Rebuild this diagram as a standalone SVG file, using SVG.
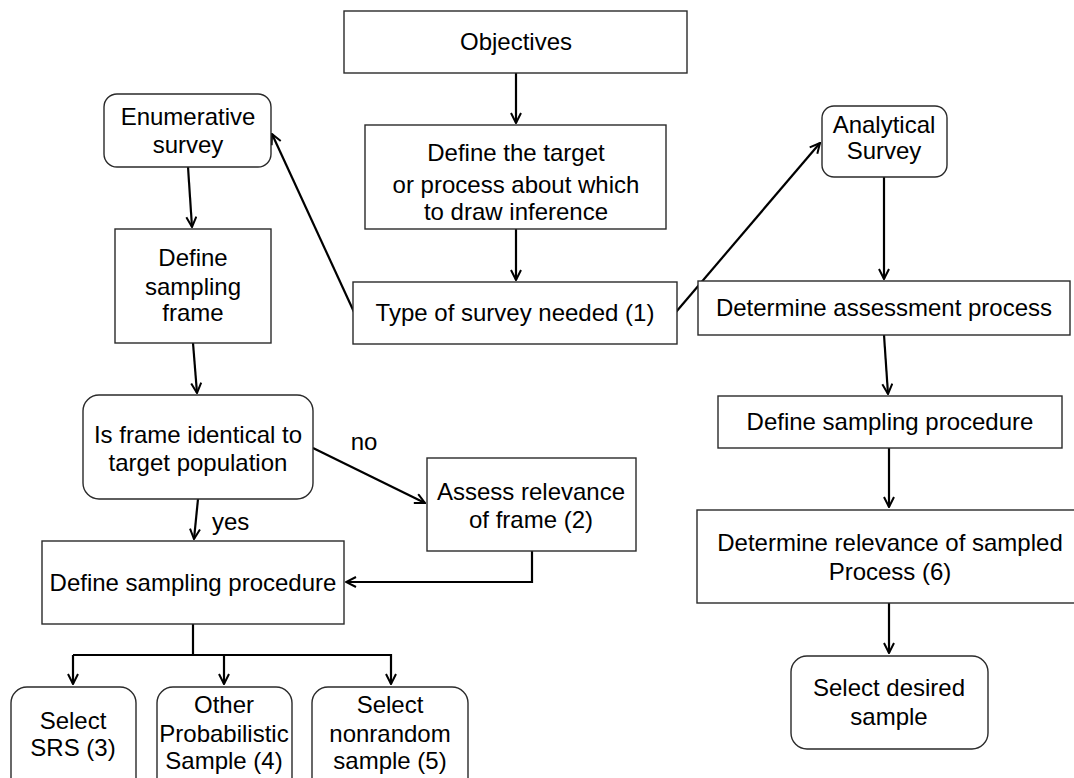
<svg xmlns="http://www.w3.org/2000/svg" width="1074" height="778" viewBox="0 0 1074 778">
<style>
.box{fill:#fff;stroke:#2a2a2a;stroke-width:1.4}
.t{font-family:"Liberation Sans",Arial,sans-serif;font-size:24px;fill:#000;text-anchor:middle}
.c{fill:none;stroke:#000;stroke-width:2.2}
</style>
<defs>
<marker id="ah" viewBox="0 0 12 12" refX="11" refY="6" markerWidth="12" markerHeight="12" markerUnits="userSpaceOnUse" orient="auto">
<path d="M1,1 L11,6 L1,11" fill="none" stroke="#000" stroke-width="2"/>
</marker>
</defs>
<rect width="1074" height="778" fill="#fff"/>
<g id="connectors">
<path class="c" d="M516,73 V123" marker-end="url(#ah)"/>
<path class="c" d="M516,229 V280" marker-end="url(#ah)"/>
<path class="c" d="M354,312 L272,134" marker-end="url(#ah)"/>
<path class="c" d="M676,312 L820,143" marker-end="url(#ah)"/>
<path class="c" d="M188,167 L192,227" marker-end="url(#ah)"/>
<path class="c" d="M193,343 L197,393" marker-end="url(#ah)"/>
<path class="c" d="M313,448 L425,503" marker-end="url(#ah)"/>
<path class="c" d="M198,499 L194,539" marker-end="url(#ah)"/>
<path class="c" d="M532,551 V582 H346" marker-end="url(#ah)"/>
<path class="c" d="M193,624 V655"/>
<path class="c" d="M73,655 H391 V684" marker-end="url(#ah)"/>
<path class="c" d="M73,655 V684" marker-end="url(#ah)"/>
<path class="c" d="M224,655 V684" marker-end="url(#ah)"/>
<path class="c" d="M884,177 V279" marker-end="url(#ah)"/>
<path class="c" d="M884,335 L888,394" marker-end="url(#ah)"/>
<path class="c" d="M889,448 V507" marker-end="url(#ah)"/>
<path class="c" d="M889,603 V653" marker-end="url(#ah)"/>
</g>
<g id="objectives"><rect class="box" x="344" y="11" width="343" height="62"/><text class="t" x="516" y="50">Objectives</text></g>
<g id="define-target"><rect class="box" x="365" y="125" width="301" height="104"/>
<text class="t" x="516" y="161">Define the target</text><text class="t" x="516" y="193">or process about which</text><text class="t" x="516" y="220">to draw inference</text></g>
<g id="type-survey"><rect class="box" x="353" y="282" width="324" height="62"/><text class="t" x="515" y="321">Type of survey needed (1)</text></g>
<g id="enumerative"><rect class="box" x="104" y="94" width="167" height="73" rx="13"/>
<text class="t" x="188" y="125">Enumerative</text><text class="t" x="188" y="153">survey</text></g>
<g id="define-frame"><rect class="box" x="115" y="229" width="156" height="114"/>
<text class="t" x="193" y="266">Define</text><text class="t" x="193" y="295">sampling</text><text class="t" x="193" y="321">frame</text></g>
<g id="is-frame"><rect class="box" x="83" y="395" width="230" height="104" rx="16"/>
<text class="t" x="198" y="443">Is frame identical to</text><text class="t" x="198" y="471">target population</text></g>
<text class="t" x="364" y="450">no</text>
<text class="t" x="212" y="530" style="text-anchor:start">yes</text>
<g id="assess"><rect class="box" x="427" y="458" width="209" height="93"/>
<text class="t" x="531" y="500">Assess relevance</text><text class="t" x="531" y="528">of frame (2)</text></g>
<g id="define-proc-left"><rect class="box" x="42" y="541" width="302" height="83"/><text class="t" x="193" y="591">Define sampling procedure</text></g>
<g id="srs"><rect class="box" x="11" y="687" width="125" height="110" rx="16"/>
<text class="t" x="73" y="729">Select</text><text class="t" x="73" y="756">SRS (3)</text></g>
<g id="other"><rect class="box" x="157" y="687" width="135" height="110" rx="16"/>
<text class="t" x="224" y="713">Other</text><text class="t" x="224" y="742">Probabilistic</text><text class="t" x="224" y="769">Sample (4)</text></g>
<g id="nonrandom"><rect class="box" x="312" y="687" width="156" height="110" rx="16"/>
<text class="t" x="390" y="713">Select</text><text class="t" x="390" y="742">nonrandom</text><text class="t" x="390" y="769">sample (5)</text></g>
<g id="analytical"><rect class="box" x="822" y="106" width="125" height="71" rx="12"/>
<text class="t" x="884" y="133">Analytical</text><text class="t" x="884" y="159">Survey</text></g>
<g id="assessment"><rect class="box" x="698" y="281" width="372" height="54"/><text class="t" x="884" y="316">Determine assessment process</text></g>
<g id="define-proc-right"><rect class="box" x="718" y="396" width="344" height="52"/><text class="t" x="890" y="430">Define sampling procedure</text></g>
<g id="relevance"><rect class="box" x="697" y="510" width="390" height="93"/>
<text class="t" x="890" y="551">Determine relevance of sampled</text><text class="t" x="890" y="580">Process (6)</text></g>
<g id="desired"><rect class="box" x="791" y="656" width="197" height="93" rx="16"/>
<text class="t" x="889" y="696">Select desired</text><text class="t" x="889" y="725">sample</text></g>
</svg>
